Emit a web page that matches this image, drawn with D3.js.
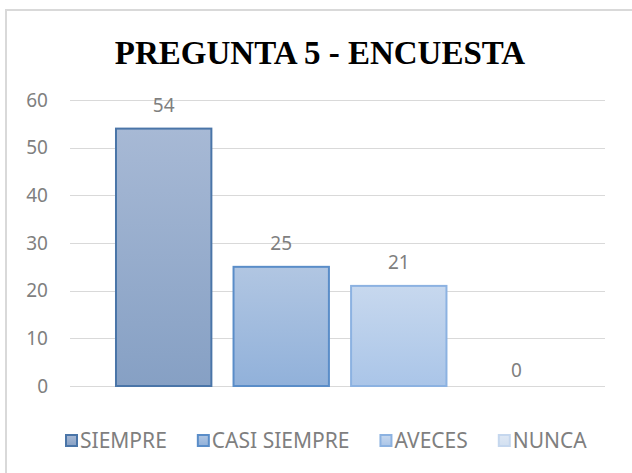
<!DOCTYPE html>
<html>
<head>
<meta charset="utf-8">
<script src="https://cdn.jsdelivr.net/npm/d3@7"></script>
<style>
  body { margin: 0; background: #fff; }
  svg { display: block; }
</style>
</head>
<body>
<div id="chart"></div>
<script>
// data
const series = ["SIEMPRE", "CASI SIEMPRE", "AVECES", "NUNCA"];
const values = [54, 25, 21, 0];
const yTicks = [0, 10, 20, 30, 40, 50, 60];
const topColors = ["#a7b9d5", "#b1c6e2", "#c7d8ee", "#dfe8f4"];
const bottomColors = ["#86a0c4", "#91b1da", "#aac5e8", "#d2e0f1"];
const strokeColors = ["#4a75a8", "#5a8dc8", "#8cb2e1", "#c5d7ee"];

const width = 632, height = 473;
const margin = {top: 100, right: 24, bottom: 87, left: 72};

const svg = d3.select("#chart").append("svg")
    .attr("width", width)
    .attr("height", height);

// chart border (only top and left visible in the crop)
svg.append("rect")
    .attr("x", 6).attr("y", 10)
    .attr("width", 700).attr("height", 600)
    .attr("fill", "none")
    .attr("stroke", "#d9d9d9")
    .attr("stroke-width", 2);

const x = d3.scaleBand()
    .domain(series)
    .range([margin.left, width - margin.right])
    .paddingInner(0.18)
    .paddingOuter(0.37);

const y = d3.scaleLinear()
    .domain([0, 60])
    .range([height - margin.bottom, margin.top]);

// gradients
const defs = svg.append("defs");
series.forEach((s, i) => {
    const g = defs.append("linearGradient")
        .attr("id", "grad" + i)
        .attr("x1", 0).attr("y1", 0).attr("x2", 0).attr("y2", 1);
    g.append("stop").attr("offset", "0%").attr("stop-color", topColors[i]);
    g.append("stop").attr("offset", "100%").attr("stop-color", bottomColors[i]);
});

// gridlines
svg.append("g")
    .selectAll("line")
    .data(yTicks)
    .enter()
    .append("line")
    .attr("x1", margin.left - 2)
    .attr("x2", width - margin.right - 3)
    .attr("y1", d => Math.round(y(d)) + 0.5)
    .attr("y2", d => Math.round(y(d)) + 0.5)
    .attr("stroke", "#d9d9d9")
    .attr("stroke-width", 1);

// y axis labels
const yAxis = svg.append("g")
    .attr("transform", "translate(" + (margin.left - 24) + ",0)")
    .call(d3.axisLeft(y).tickValues(yTicks).tickSize(0).tickPadding(0));
yAxis.select(".domain").remove();
yAxis.selectAll("text")
    .attr("fill", "#7f7f7f")
    .style("font-family", "'Noto Sans', sans-serif")
    .style("font-size", "19px");

// bars
svg.append("g")
    .selectAll("rect")
    .data(values)
    .enter()
    .append("rect")
    .filter(d => d > 0)
    .attr("x", d => x(series[values.indexOf(d)]) + 0.5)
    .attr("y", d => y(d))
    .attr("width", x.bandwidth() - 1)
    .attr("height", d => y(0) - y(d))
    .attr("fill", d => "url(#grad" + values.indexOf(d) + ")")
    .attr("stroke", d => strokeColors[values.indexOf(d)])
    .attr("stroke-width", 2);

// value labels
svg.append("g")
    .selectAll("text")
    .data(values)
    .enter()
    .append("text")
    .attr("x", (d, i) => x(series[i]) + x.bandwidth() / 2)
    .attr("y", d => d > 0 ? y(d) - 17 : y(d) - 9)
    .attr("text-anchor", "middle")
    .attr("fill", "#7f7f7f")
    .style("font-family", "'Noto Sans', sans-serif")
    .style("font-size", "19px")
    .text(d => d);

// title
svg.append("text")
    .attr("x", 320)
    .attr("y", 64)
    .attr("text-anchor", "middle")
    .attr("fill", "#000")
    .style("font-family", "'Liberation Serif', 'Times New Roman', serif")
    .style("font-weight", "bold")
    .style("font-size", "33px")
    .text("PREGUNTA 5 - ENCUESTA");

// legend
const legend = svg.append("g").attr("transform", "translate(0,441)");
let lx = 65;
series.forEach((s, i) => {
    const item = legend.append("g").attr("transform", "translate(" + lx + ",0)");
    item.append("rect")
        .attr("x", 1).attr("y", -6)
        .attr("width", 11).attr("height", 11)
        .attr("fill", "url(#grad" + i + ")")
        .attr("stroke", strokeColors[i])
        .attr("stroke-width", 2);
    const t = item.append("text")
        .attr("x", 15)
        .attr("y", 7)
        .attr("fill", "#7f7f7f")
        .style("font-family", "'Noto Sans', sans-serif")
        .style("font-size", "21px")
        .text(s);
    lx += 15 + t.node().getComputedTextLength() + 30;
});
</script>
</body>
</html>
